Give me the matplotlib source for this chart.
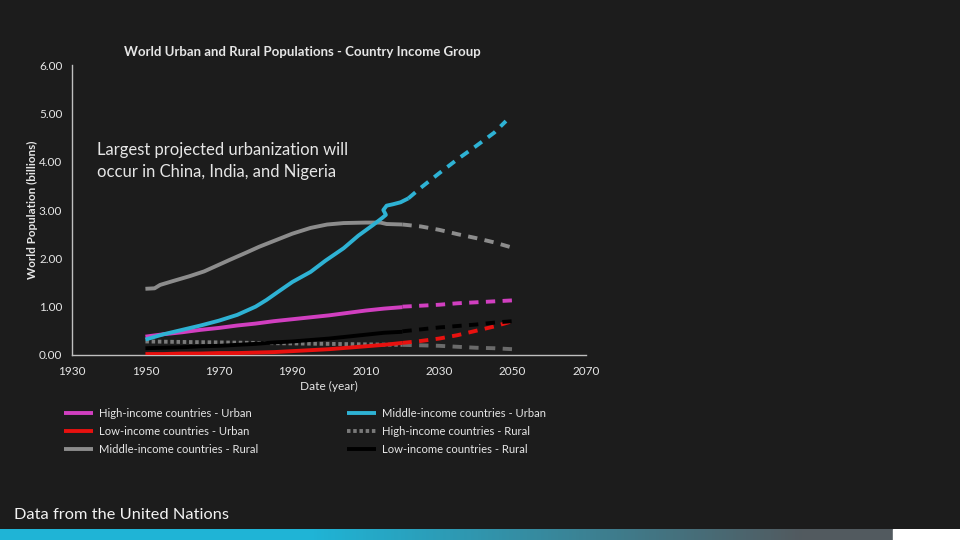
import matplotlib
matplotlib.use("Agg")
import matplotlib.pyplot as plt
import numpy as np

# ---------------- data (billions) ----------------
hist_years = [1950, 1955, 1960, 1965, 1970, 1975, 1980, 1985, 1990, 1995, 2000, 2005, 2010, 2015, 2020]
proj_years = [2020, 2025, 2030, 2035, 2040, 2045, 2050]

high_urban_hist = [0.38, 0.43, 0.47, 0.52, 0.56, 0.61, 0.65, 0.70, 0.74, 0.78, 0.82, 0.87, 0.92, 0.96, 0.99]
high_urban_proj = [1.00, 1.02, 1.04, 1.07, 1.09, 1.11, 1.13]

low_urban_hist = [0.02, 0.02, 0.03, 0.03, 0.04, 0.04, 0.05, 0.06, 0.08, 0.10, 0.12, 0.15, 0.18, 0.21, 0.25]
low_urban_proj = [0.25, 0.29, 0.34, 0.41, 0.50, 0.59, 0.70]

mid_rural_hist_years = [1950, 1952.5, 1954, 1957.5, 1962, 1966, 1969.5, 1973, 1977.5, 1981, 1986, 1990,
                        1995, 1999.5, 2004, 2010, 2014, 2015.7, 2020]
mid_rural_hist = [1.37, 1.38, 1.45, 1.53, 1.63, 1.73, 1.85, 1.97, 2.12, 2.24, 2.39, 2.51,
                  2.63, 2.70, 2.73, 2.74, 2.74, 2.71, 2.70]
mid_rural_proj = [2.70, 2.66, 2.59, 2.50, 2.42, 2.33, 2.22]

mid_urban_hist_years = [1950, 1955, 1960, 1965, 1970, 1975, 1980, 1983, 1986, 1990, 1995, 1999, 2004,
                        2008, 2012, 2014.4, 2015.5, 2014.8, 2015.7, 2017.5, 2019.5, 2021.6]
mid_urban_hist = [0.32, 0.43, 0.52, 0.61, 0.71, 0.83, 1.00, 1.14, 1.30, 1.51, 1.72, 1.95, 2.21,
                  2.47, 2.69, 2.83, 2.90, 3.00, 3.09, 3.12, 3.16, 3.24]
mid_urban_proj_years = [2021.6, 2025, 2030, 2035, 2040, 2045, 2048.2]
mid_urban_proj = [3.24, 3.46, 3.76, 4.05, 4.32, 4.60, 4.84]

high_rural_hist = [0.28, 0.275, 0.27, 0.265, 0.26, 0.255, 0.25, 0.245, 0.24, 0.235, 0.23, 0.225, 0.22, 0.215, 0.21]
high_rural_proj = [0.21, 0.20, 0.19, 0.17, 0.15, 0.14, 0.12]

low_rural_hist = [0.14, 0.15, 0.16, 0.18, 0.19, 0.21, 0.23, 0.26, 0.28, 0.31, 0.34, 0.38, 0.42, 0.46, 0.48]
low_rural_proj = [0.49, 0.53, 0.57, 0.60, 0.63, 0.67, 0.70]

x_ticks = [1930, 1950, 1970, 1990, 2010, 2030, 2050, 2070]
y_ticks = [0, 1, 2, 3, 4, 5, 6]

labels = ["High-income countries - Urban", "Low-income countries - Urban",
          "Middle-income countries - Rural", "Middle-income countries - Urban",
          "High-income countries - Rural", "Low-income countries - Rural"]

# ---------------- style ----------------
BG = "#1c1c1c"
TXT = "#e6e6e6"
FONT = ["Lato", "DejaVu Sans"]
plt.rcParams["font.family"] = FONT

C_MAG = "#d13fc0"
C_RED = "#e8110f"
C_GRAY = "#8c8c8c"
C_CYAN = "#2eb2d4"
C_HR = "#7a7a7a"
C_BLK = "#000000"

fig = plt.figure(figsize=(9.6, 5.4), dpi=100, facecolor=BG)
ax = fig.add_axes([0.075, 0.3426, 0.5354, 0.537])
ax.set_facecolor(BG)

LW = 2.8
DASH = (2.4, 1.9)
SOL = dict(lw=LW, solid_capstyle="butt", solid_joinstyle="round")

h_mag, = ax.plot(hist_years, high_urban_hist, color=C_MAG, zorder=4, **SOL)
ax.plot(proj_years, high_urban_proj, color=C_MAG, lw=LW, dashes=DASH, zorder=4)

h_red, = ax.plot(hist_years, low_urban_hist, color=C_RED, zorder=3, **SOL)
ax.plot(proj_years, low_urban_proj, color=C_RED, lw=LW, dashes=DASH, zorder=3)

h_gray, = ax.plot(mid_rural_hist_years, mid_rural_hist, color=C_GRAY, zorder=3, **SOL)
ax.plot(proj_years, mid_rural_proj, color=C_GRAY, lw=LW, dashes=DASH, zorder=3)

h_cyan, = ax.plot(mid_urban_hist_years, mid_urban_hist, color=C_CYAN, zorder=5, **SOL)
ax.plot(mid_urban_proj_years, mid_urban_proj, color=C_CYAN, lw=LW, dashes=DASH, zorder=5)

h_hr, = ax.plot(hist_years, high_rural_hist, color=C_HR, lw=LW, dashes=(0.9, 0.7), zorder=2)
ax.plot(proj_years, high_rural_proj, color="#6a6a6a", lw=LW, dashes=DASH, zorder=2)

h_blk, = ax.plot(hist_years, low_rural_hist, color=C_BLK, zorder=3, **SOL)
ax.plot(proj_years, low_rural_proj, color=C_BLK, lw=LW, dashes=DASH, zorder=3)

ax.set_xlim(1930, 2070)
ax.set_ylim(0, 6)
ax.set_xticks(x_ticks)
ax.set_yticks(y_ticks)
ax.set_yticklabels([f"{v:.2f}" for v in y_ticks])
ax.tick_params(axis="both", length=0, colors=TXT, labelsize=8.5)
ax.tick_params(axis="x", pad=8)
ax.tick_params(axis="y", pad=7)
for s in ["top", "right"]:
    ax.spines[s].set_visible(False)
for s in ["left", "bottom"]:
    ax.spines[s].set_color("#bfbfbf")
    ax.spines[s].set_linewidth(1)

ax.set_xlabel("Date (year)", color=TXT, fontsize=8.6, labelpad=3)
fig.text(0.034, 0.611, "World Population (billions)", rotation=90, color=TXT,
         fontsize=8.4, fontweight="bold", ha="center", va="center")

fig.text(0.315, 0.904, "World Urban and Rural Populations - Country Income Group",
         color=TXT, fontsize=9.5, fontweight="bold", ha="center", va="center")

fig.text(0.101, 0.702, "Largest projected urbanization will\noccur in China, India, and Nigeria",
         color=TXT, fontsize=12, ha="left", va="center", linespacing=1.48)

fig.text(0.0145, 0.047, "Data from the United Nations", color="#f2f2f2", fontsize=11.8,
         ha="left", va="center")

handles = [h_mag, h_red, h_gray, h_cyan, h_hr, h_blk]
leg_kw = dict(loc="upper left", frameon=False, fontsize=8.1, labelcolor=TXT,
              handlelength=2.55, handletextpad=0.55, labelspacing=0.6,
              borderpad=0, borderaxespad=0)
leg1 = fig.legend(handles[:3], labels[:3], bbox_to_anchor=(0.0667, 0.2444), **leg_kw)
leg2 = fig.legend(handles[3:], labels[3:], bbox_to_anchor=(0.3615, 0.2444), **leg_kw)

# bottom gradient band
bax = fig.add_axes([0, 0, 1, 0.0204])
bax.set_axis_off()
grad = np.linspace(0, 1, 256)
c0 = np.array([0x1f, 0xb4, 0xd6]) / 255.0
c1 = np.array([0x52, 0x5a, 0x5f]) / 255.0
t = np.clip((grad - 0.35) / 0.55, 0, 1)
cols = (1 - t)[:, None] * c0 + t[:, None] * c1
img = np.tile(cols[None, :, :], (2, 1, 1))
bax.imshow(img, aspect="auto", extent=[0, 893, 0, 1])
bax.axvspan(893, 960, color="white")
bax.set_xlim(0, 960)
bax.set_ylim(0, 1)

fig.savefig("out.png", dpi=100, facecolor=BG)
